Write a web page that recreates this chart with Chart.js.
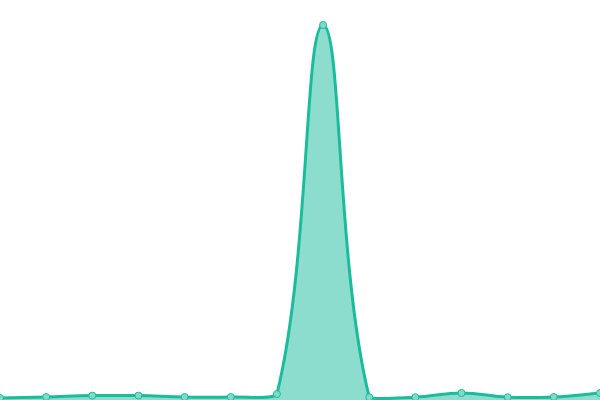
<!DOCTYPE html>
<html>
<head>
<meta charset="utf-8">
<script src="https://cdn.jsdelivr.net/npm/chart.js@4"></script>
<style>
  html, body { margin: 0; padding: 0; background: #fff; }
  #wrap { width: 600px; height: 400px; }
</style>
</head>
<body>
<div id="wrap"><canvas id="chart"></canvas></div>
<script>
const labels = ["1", "2", "3", "4", "5", "6", "7", "8", "9", "10", "11", "12", "13", "14"];
const values = [0.5, 0.75, 1.1, 1.1, 0.75, 0.75, 1.5, 93.75, 0.7, 0.7, 1.75, 0.7, 0.75, 1.75];

const lineColor = "#1abc9c";
const fillColor = "rgba(26, 188, 156, 0.5)";
const pointFill = "#80dac7";

new Chart(document.getElementById("chart"), {
    type: "line",
    data: {
        labels: labels,
        datasets: [
            {
                data: values,
                borderColor: lineColor,
                backgroundColor: fillColor,
                borderWidth: 3,
                fill: true,
                tension: 0.4,
                pointRadius: 3.5,
                pointBorderWidth: 1,
                pointBackgroundColor: pointFill,
                pointBorderColor: lineColor,
            },
        ],
    },
    options: {
        responsive: true,
        maintainAspectRatio: false,
        animation: false,
        layout: { padding: 0, autoPadding: false },
        plugins: {
            legend: { display: false },
            tooltip: { enabled: false },
        },
        scales: {
            x: { display: false, offset: false },
            y: { display: false, min: 0, max: 100 },
        },
    },
});
</script>
</body>
</html>
